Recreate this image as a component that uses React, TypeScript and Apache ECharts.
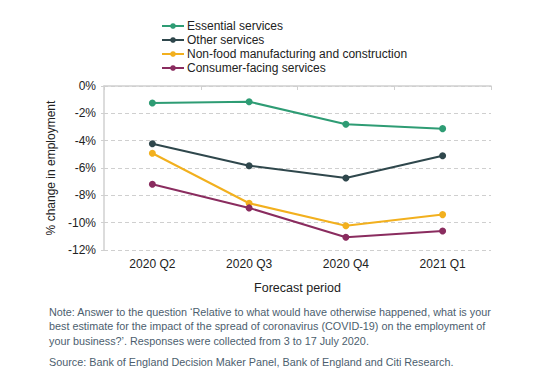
import React, { useEffect, useRef } from "react";
import * as echarts from "echarts";

const categories = ["2020 Q2", "2020 Q3", "2020 Q4", "2021 Q1"];
const essential = [-1.24, -1.15, -2.8, -3.12];
const other = [-4.22, -5.83, -6.73, -5.1];
const nonFood = [-4.92, -8.58, -10.22, -9.41];
const consumer = [-7.19, -8.92, -11.07, -10.61];
const seriesNames = [
  "Essential services",
  "Other services",
  "Non-food manufacturing and construction",
  "Consumer-facing services",
];
const colors = ["#2e9c74", "#2f474c", "#f2b01e", "#8a2c5f"];
const noteLines = [
  "Note: Answer to the question \u2018Relative to what would have otherwise happened, what is your",
  "best estimate for the impact of the spread of coronavirus (COVID-19) on the employment of",
  "your business?\u2019. Responses were collected from 3 to 17 July 2020.",
];
const sourceLine =
  "Source: Bank of England Decision Maker Panel, Bank of England and Citi Research.";

const FONT = "'Liberation Sans', Arial, sans-serif";

export default function App() {
  const ref = useRef<HTMLDivElement>(null);
  useEffect(() => {
    if (!ref.current) return;
    const chart = echarts.init(ref.current, null, { renderer: "svg" });
    const data = [essential, other, nonFood, consumer];
    chart.setOption({
      animation: false,
      textStyle: { fontFamily: FONT },
      color: colors,
      legend: {
        orient: "vertical",
        left: 156,
        top: 15,
        itemWidth: 22,
        itemHeight: 7,
        itemGap: 2,
        textStyle: { fontSize: 12, color: "#222", fontFamily: FONT, padding: [0, 0, 0, -2] },
        data: seriesNames,
      },
      grid: { left: 104, right: 50, top: 86, bottom: 123 },
      xAxis: [
        {
          type: "category",
          data: categories,
          position: "bottom",
          axisLine: { show: false },
          axisTick: { show: false },
          axisLabel: { fontSize: 12, color: "#222", margin: 8 },
          name: "Forecast period",
          nameLocation: "middle",
          nameGap: 31,
          nameTextStyle: { fontSize: 12.5, color: "#222" },
        },
        {
          type: "category",
          data: categories,
          position: "top",
          axisLine: { show: true, lineStyle: { color: "#d0d0d0", width: 1.5 } },
          axisTick: { show: true, inside: true, length: 4, lineStyle: { color: "#d0d0d0" } },
          axisLabel: { show: false },
        },
      ],
      yAxis: {
        type: "value",
        min: -12,
        max: 0,
        interval: 2,
        axisLine: { show: true, lineStyle: { color: "#d0d0d0", width: 1.5 } },
        axisTick: { show: true, length: 3, lineStyle: { color: "#d0d0d0" } },
        axisLabel: {
          fontSize: 12,
          color: "#222",
          margin: 8,
          formatter: (v: number) => `${v}%`,
        },
        splitLine: { show: true, lineStyle: { color: "#cfcfcf", type: [4, 3] } },
        name: "% change in employment",
        nameLocation: "middle",
        nameGap: 41,
        nameTextStyle: { fontSize: 12, color: "#222" },
      },
      series: seriesNames.map((name, i) => ({
        name,
        type: "line",
        data: data[i],
        xAxisIndex: 0,
        symbol: "circle",
        symbolSize: 7,
        lineStyle: { width: 2, color: colors[i] },
        itemStyle: { color: colors[i] },
      })),
      graphic: [
        ...noteLines.map((t, i) => ({
          type: "text",
          left: 49,
          top: 306 + i * 14.5,
          style: { text: t, fontSize: 10.8, fill: "#4c5e6e", fontFamily: FONT },
        })),
        {
          type: "text",
          left: 49,
          top: 356,
          style: { text: sourceLine, fontSize: 10.8, fill: "#4c5e6e", fontFamily: FONT },
        },
      ],
    });
    return () => chart.dispose();
  }, []);
  return (
    <div
      ref={ref}
      style={{ position: "absolute", left: 0, top: 0, width: 541, height: 373 }}
    />
  );
}
